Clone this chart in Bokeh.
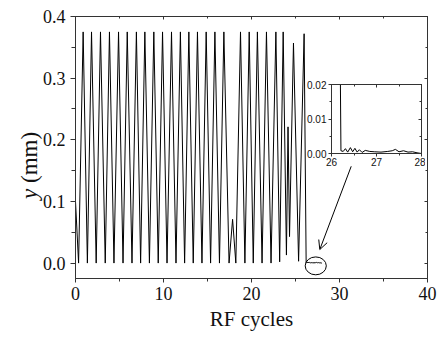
from bokeh.plotting import figure
from bokeh.models import (Range1d, LinearAxis, Arrow, OpenHead, Div,
                          FixedTicker, PrintfTickFormatter)
from bokeh.layouts import column
from bokeh.embed import file_html
from bokeh.resources import INLINE

# ---- data: turning points of the trajectory ----
t_cycles = [0.00, 0.35, 0.87, 1.35, 1.82, 2.35, 2.84, 3.38, 3.86, 4.37,
            4.89, 5.40, 5.88, 6.42, 6.92, 7.40, 7.88, 8.40, 8.90, 9.40,
            9.89, 10.40, 10.91, 11.42, 11.92, 12.40, 12.88, 13.38, 13.86, 14.37,
            14.85, 15.35, 15.84, 16.36, 16.86, 17.45, 17.85, 18.22, 18.75, 19.25,
            19.74, 20.20, 20.67, 21.20, 21.70, 22.22, 22.77, 23.20, 23.60, 23.97,
            24.15, 24.32, 24.77, 25.35, 25.98, 26.21, 26.26, 26.31, 26.36, 26.42,
            26.47, 26.52, 26.57, 26.62, 26.68, 26.75, 26.85, 26.95, 27.10, 27.25,
            27.35, 27.42, 27.50, 27.60, 27.70, 27.80, 27.90, 28.00]
y_mm = [0.100, 0.000, 0.375, 0.000, 0.375, 0.000, 0.375, 0.000, 0.375, 0.000,
        0.375, 0.000, 0.375, 0.000, 0.375, 0.000, 0.375, 0.000, 0.375, 0.000,
        0.375, 0.000, 0.375, 0.000, 0.375, 0.000, 0.375, 0.000, 0.375, 0.000,
        0.375, 0.000, 0.375, 0.000, 0.375, 0.000, 0.071, 0.000, 0.375, 0.000,
        0.375, 0.000, 0.375, 0.000, 0.375, 0.000, 0.375, 0.002, 0.375, 0.013,
        0.221, 0.043, 0.357, 0.003, 0.372, 0.0008, 0.0006, 0.0014, 0.0004, 0.0017,
        0.0005, 0.0015, 0.0004, 0.0011, 0.0003, 0.0009, 0.0006, 0.0005, 0.0004, 0.0006,
        0.0008, 0.0012, 0.0005, 0.0008, 0.0004, 0.0005, 0.0002, 0.0000]

x_major = [0, 10, 20, 30, 40]
x_minor = [5, 15, 25, 35]
y_major = [0.0, 0.1, 0.2, 0.3, 0.4]
y_minor = [0.05, 0.15, 0.25, 0.35]

inset_x_major = [26, 27, 28]
inset_x_minor = [26.5, 27.5]
inset_y_major = [0.00, 0.01, 0.02]
inset_y_minor = [0.005, 0.015]

x_title = "RF cycles"
y_title_var = "y"
y_title_unit = " (mm)"

# annotation (circle + arrow) placement
ell_x, ell_y, ell_w, ell_h = 27.3, -0.0045, 2.4, 0.029
arr_x0, arr_y0, arr_x1, arr_y1 = 31.33, 0.157, 27.76, 0.022

AX = "#333333"
SERIF = "Liberation Serif"
SANS = "Liberation Sans"

p = figure(frame_width=352, frame_height=262,
           x_range=Range1d(0, 40), y_range=Range1d(-0.025, 0.4),
           output_backend="svg", toolbar_location=None,
           min_border_left=75, min_border_right=14,
           min_border_top=16, min_border_bottom=62,
           frame_align=False)
p.xgrid.visible = False
p.ygrid.visible = False
p.outline_line_color = AX


def style_axis(ax, major, minor, fmt, font, size, tin, tout, labels=True):
    ax.ticker = FixedTicker(ticks=major, minor_ticks=minor)
    ax.formatter = PrintfTickFormatter(format=fmt)
    ax.axis_line_color = AX
    ax.major_tick_line_color = AX
    ax.minor_tick_line_color = AX
    ax.major_tick_in = tin
    ax.major_tick_out = tout
    ax.minor_tick_in = max(tin - 1, 0) if tin else 0
    ax.minor_tick_out = max(tout - 1, 0) if tout else 0
    ax.major_label_text_font = font
    ax.major_label_text_color = "#111111"
    ax.major_label_text_font_size = size
    if not labels:
        ax.major_label_overrides = {t: "" for t in major}
        ax.major_label_standoff = 0


style_axis(p.xaxis[0], x_major, x_minor, "%d", SERIF, "18px", 0, 4)
style_axis(p.yaxis[0], y_major, y_minor, "%.1f", SERIF, "18px", 0, 5)
p.xaxis[0].major_label_standoff = 4
p.yaxis[0].major_label_standoff = 5
p.xaxis[0].axis_label = x_title
p.xaxis[0].axis_label_text_font = SERIF
p.xaxis[0].axis_label_text_font_size = "21px"
p.xaxis[0].axis_label_text_font_style = "normal"
p.xaxis[0].axis_label_text_color = "#111111"
p.xaxis[0].axis_label_standoff = 4

top = LinearAxis()
style_axis(top, x_major, x_minor, "%d", SERIF, "10px", 3, 0, labels=False)
p.add_layout(top, "above")
right = LinearAxis()
style_axis(right, y_major, y_minor, "%.1f", SERIF, "10px", 3, 0, labels=False)
p.add_layout(right, "right")

p.line(t_cycles, y_mm, line_color="black", line_width=1)
p.ellipse(x=[ell_x], y=[ell_y], width=ell_w, height=ell_h,
          fill_color=None, line_color="black", line_width=1)
p.add_layout(Arrow(end=OpenHead(size=9, line_width=1, line_color="black"),
                   x_start=arr_x0, y_start=arr_y0, x_end=arr_x1, y_end=arr_y1,
                   line_width=1, line_color="black"))

# ---- y axis title (italic variable), rotated ----
ytitle = Div(text=(f'<span style="font-family:\'{SERIF}\';font-size:23px;'
                   f'line-height:23px;white-space:nowrap;color:#111111">'
                   f'<i>{y_title_var}</i>{y_title_unit}</span>'),
             width=80, height=23,
             styles={"position": "absolute", "left": "13px", "top": "194px",
                     "transform": "rotate(-90deg)",
                     "transform-origin": "left top"})

# ---- inset ----
inset = figure(frame_width=90, frame_height=69,
               x_range=Range1d(26, 28), y_range=Range1d(0, 0.02),
               output_backend="svg", toolbar_location=None,
               min_border_left=30, min_border_right=4,
               min_border_top=4, min_border_bottom=16,
               frame_align=False,
               styles={"position": "absolute", "left": "301px", "top": "80px"})
inset.xgrid.visible = False
inset.ygrid.visible = False
inset.outline_line_color = AX
inset.background_fill_alpha = 0
inset.border_fill_alpha = 0
style_axis(inset.xaxis[0], inset_x_major, inset_x_minor, "%d", SANS, "10px", 0, 3)
style_axis(inset.yaxis[0], inset_y_major, inset_y_minor, "%.2f", SANS, "10px", 0, 3)
inset.xaxis[0].major_label_standoff = 1
inset.yaxis[0].major_label_standoff = 2
itop = LinearAxis()
style_axis(itop, inset_x_major, inset_x_minor, "%d", SANS, "10px", 3, 0, labels=False)
inset.add_layout(itop, "above")
iright = LinearAxis()
style_axis(iright, inset_y_major, inset_y_minor, "%.2f", SANS, "10px", 3, 0, labels=False)
inset.add_layout(iright, "right")
inset.line(t_cycles, y_mm, line_color="black", line_width=1)

layout = column(p, inset, ytitle)
open("out.html", "w").write(file_html(layout, INLINE))
